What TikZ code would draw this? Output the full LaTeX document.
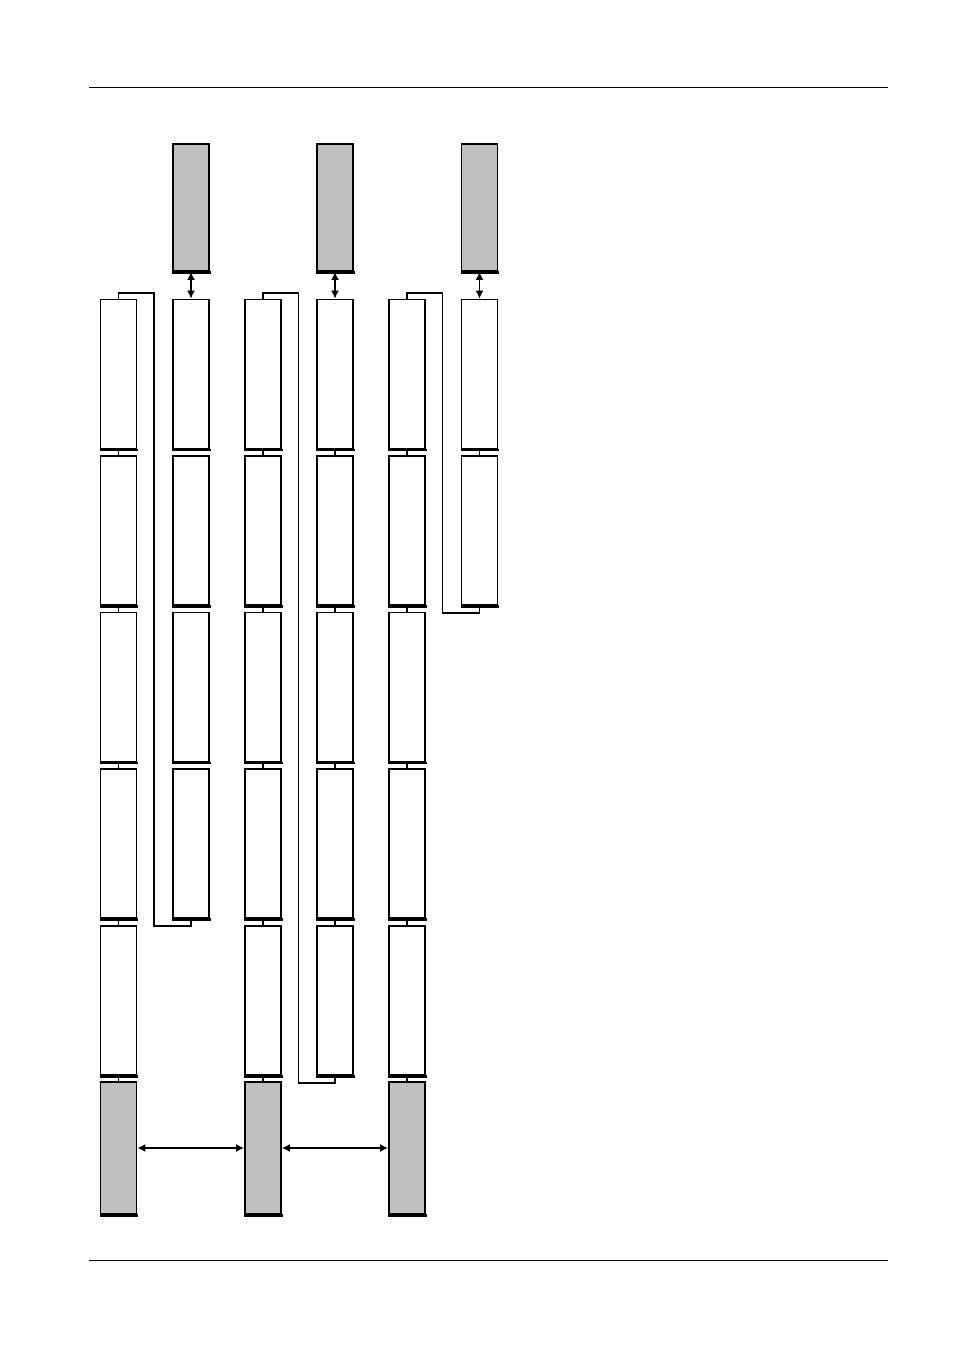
\documentclass[tikz,border=0pt]{standalone}
\usetikzlibrary{arrows.meta}
\definecolor{boxgray}{RGB}{192,192,192}
\tikzset{
  box/.style={draw=black, line width=1.7pt, fill=white, rectangle, inner sep=0pt,
    minimum width=36pt, minimum height=#1,
    append after command={([yshift=-0.8pt]\tikzlastnode.south west) edge[line width=2.4pt, shorten >=-1pt] ([yshift=-0.8pt]\tikzlastnode.south east)}},
  box/.default=149pt,
  gbox/.style={box=#1, fill=boxgray},
  link/.style={draw=black, line width=1.3pt},
  bracket/.style={draw=black, line width=1.8pt},
  dbl/.style={draw=black, line width=1.7pt, {Latex[length=8pt,width=8pt]}-{Latex[length=8pt,width=8pt]}},
  rule/.style={draw=black, line width=1pt}
}
\begin{document}
\begin{tikzpicture}[x=1pt,y=-1pt]
\useasboundingbox (0,0) rectangle (954,1350);
% page rules
\coordinate (r1l) at (89,87); \coordinate (r1r) at (888,87);
\coordinate (r2l) at (89,1260); \coordinate (r2r) at (888,1260);
\draw[rule] (r1l) -- (r1r);
\draw[rule] (r2l) -- (r2r);
% column A
\node[box] (a1) at (118.5,374) {};
\node[box] (a2) at (118.5,530.5) {};
\node[box] (a3) at (118.5,687) {};
\node[box] (a4) at (118.5,843.5) {};
\node[box] (a5) at (118.5,1000.5) {};
\node[gbox=132pt] (a6) at (118.5,1148) {};
% column B
\node[gbox=127pt] (b0) at (191,207.5) {};
\node[box] (b1) at (191,374) {};
\node[box] (b2) at (191,530.5) {};
\node[box] (b3) at (191,687) {};
\node[box] (b4) at (191,843.5) {};
% column C
\node[box] (c1) at (263,374) {};
\node[box] (c2) at (263,530.5) {};
\node[box] (c3) at (263,687) {};
\node[box] (c4) at (263,843.5) {};
\node[box] (c5) at (263,1000.5) {};
\node[gbox=132pt] (c6) at (263,1148) {};
% column D
\node[gbox=127pt] (d0) at (335,207.5) {};
\node[box] (d1) at (335,374) {};
\node[box] (d2) at (335,530.5) {};
\node[box] (d3) at (335,687) {};
\node[box] (d4) at (335,843.5) {};
\node[box] (d5) at (335,1000.5) {};
% column E
\node[box] (e1) at (407,374) {};
\node[box] (e2) at (407,530.5) {};
\node[box] (e3) at (407,687) {};
\node[box] (e4) at (407,843.5) {};
\node[box] (e5) at (407,1000.5) {};
\node[gbox=132pt] (e6) at (407,1148) {};
% column F
\node[gbox=127pt] (f0) at (479.5,207.5) {};
\node[box] (f1) at (479.5,374) {};
\node[box] (f2) at (479.5,530.5) {};
% links within columns
\foreach \c in {a,c,e}{
  \foreach \i/\j in {1/2,2/3,3/4,4/5,5/6}{
    \draw[link] (\c\i.south) -- (\c\j.north);
  }
}
\foreach \i/\j in {1/2,2/3,3/4,4/5}{\draw[link] (d\i.south) -- (d\j.north);}
\draw[link] (f1.south) -- (f2.north);
% brackets
\draw[bracket] (a1.north) -- ++(0,-6) -- ++(35.5,0) |- ([yshift=-7pt]b4.south) -- (b4.south);
\draw[bracket] (c1.north) -- ++(0,-6) -- ++(35.5,0) |- ([yshift=-7pt]d5.south) -- (d5.south);
\draw[bracket] (e1.north) -- ++(0,-6) -- ++(35.5,0) |- ([yshift=-7pt]f2.south) -- (f2.south);
% arrows
\draw[dbl] (b0.south) -- (b1.north);
\draw[dbl] (d0.south) -- (d1.north);
\draw[dbl] (f0.south) -- (f1.north);
\draw[dbl] (a6.east) -- (c6.west);
\draw[dbl] (c6.east) -- (e6.west);
\end{tikzpicture}
\end{document}
